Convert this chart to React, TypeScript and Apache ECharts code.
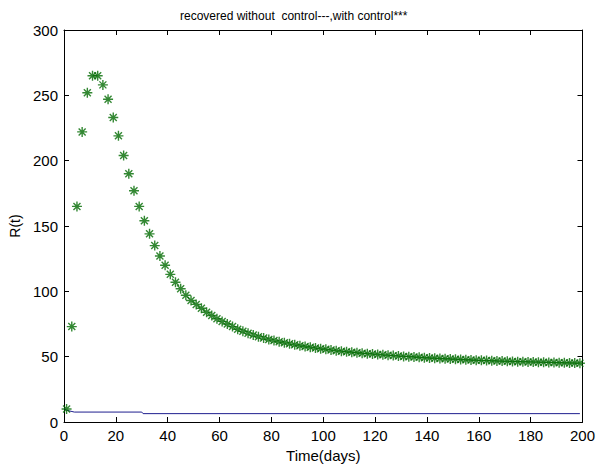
import React, { useEffect, useRef } from "react";
import * as echarts from "echarts";

const titleText = "recovered without  control---,with control***";
const xLabel = "Time(days)";
const yLabel = "R(t)";

const days: number[] = [
  1, 3, 5, 7, 9, 11, 13, 15, 17, 19, 21, 23, 25, 27, 29, 31, 33, 35, 37, 39,
  41, 43, 45, 47, 49, 51, 53, 55, 57, 59, 61, 63, 65, 67, 69, 71, 73, 75, 77, 79,
  81, 83, 85, 87, 89, 91, 93, 95, 97, 99, 101, 103, 105, 107, 109, 111, 113, 115, 117, 119,
  121, 123, 125, 127, 129, 131, 133, 135, 137, 139, 141, 143, 145, 147, 149, 151, 153, 155, 157, 159,
  161, 163, 165, 167, 169, 171, 173, 175, 177, 179, 181, 183, 185, 187, 189, 191, 193, 195, 197, 199,
];

const withoutControl: number[] = [
  10, 73, 165, 222, 252, 265, 265, 258, 247, 233, 219, 204, 190, 177, 165, 154, 144, 135, 127, 120,
  113, 107, 102, 97, 93, 90, 87, 84, 81.5, 79, 77, 75, 73, 71, 69.5, 68, 66.5, 65.3, 64.2, 63.2,
  62.3, 61.4, 60.6, 59.8, 59.1, 58.4, 57.8, 57.2, 56.6, 56.1, 55.6, 55.1, 54.6, 54.2, 53.8, 53.4, 53, 52.6, 52.3, 52,
  51.7, 51.4, 51.1, 50.8, 50.5, 50.2, 50, 49.7, 49.5, 49.2, 49, 48.8, 48.6, 48.4, 48.2, 48, 47.8, 47.6, 47.5, 47.3,
  47.2, 47, 46.9, 46.7, 46.6, 46.5, 46.3, 46.2, 46.1, 46, 45.9, 45.8, 45.7, 45.6, 45.5, 45.4, 45.3, 45.2, 45.1, 45,
];

const controlDays: number[] = [0, 1, 4, 30, 30.5, 199];
const withControl: number[] = [10.5, 9, 7.6, 7.6, 6.4, 6.4];

const xTicks = { min: 0, max: 200, interval: 20 };
const yTicks = { min: 0, max: 300, interval: 50 };

const starPath = "path://M5,0L5,10M0,5L10,5M1.5,1.5L8.5,8.5M1.5,8.5L8.5,1.5";

export default function App() {
  const ref = useRef<HTMLDivElement>(null);
  useEffect(() => {
    if (!ref.current) return;
    const chart = echarts.init(ref.current, undefined, { renderer: "svg" });
    const font = "'Liberation Sans', Arial, sans-serif";
    const axisCommon = {
      axisLine: { show: true, onZero: false, lineStyle: { color: "#000", width: 1 } },
      axisTick: { show: true, inside: true, length: 5, lineStyle: { color: "#000" } },
      splitLine: { show: false },
    };
    chart.setOption({
      animation: false,
      backgroundColor: "#fff",
      textStyle: { fontFamily: font },
      title: {
        text: titleText,
        left: 175,
        top: 5,
        textStyle: { fontSize: 12, fontWeight: "normal", color: "#000", fontFamily: font },
      },
      grid: { left: 63, right: 13, top: 30, bottom: 47, containLabel: false },
      xAxis: [
        {
          type: "value",
          position: "bottom",
          ...xTicks,
          ...axisCommon,
          axisLabel: { color: "#000", fontSize: 15, margin: 6, fontFamily: font },
          name: xLabel,
          nameLocation: "middle",
          nameGap: 26,
          nameTextStyle: { color: "#000", fontSize: 15, fontFamily: font },
        },
        {
          type: "value",
          position: "top",
          ...xTicks,
          ...axisCommon,
          axisLabel: { show: false },
        },
      ],
      yAxis: [
        {
          type: "value",
          position: "left",
          ...yTicks,
          ...axisCommon,
          axisLabel: { color: "#000", fontSize: 15, margin: 6, fontFamily: font },
          name: yLabel,
          nameLocation: "middle",
          nameGap: 42,
          nameRotate: 90,
          nameTextStyle: { color: "#000", fontSize: 14, fontFamily: font },
        },
        {
          type: "value",
          position: "right",
          ...yTicks,
          ...axisCommon,
          axisLabel: { show: false },
        },
      ],
      series: [
        {
          type: "line",
          name: "with control",
          xAxisIndex: 0,
          yAxisIndex: 0,
          data: controlDays.map((d, i) => [d, withControl[i]]),
          showSymbol: false,
          symbol: "none",
          lineStyle: { color: "#1f1f8f", width: 1 },
          z: 2,
        },
        {
          type: "scatter",
          name: "without control",
          xAxisIndex: 0,
          yAxisIndex: 0,
          data: days.map((d, i) => [d, withoutControl[i]]),
          symbol: starPath,
          symbolSize: 10,
          itemStyle: { color: "rgba(0,0,0,0)", borderColor: "#006a00", borderWidth: 1.4 },
          z: 3,
        },
      ],
    });
    return () => chart.dispose();
  }, []);
  return (
    <div
      ref={ref}
      style={{ position: "fixed", left: 0, top: 0, width: 598, height: 469, background: "#fff" }}
    />
  );
}
